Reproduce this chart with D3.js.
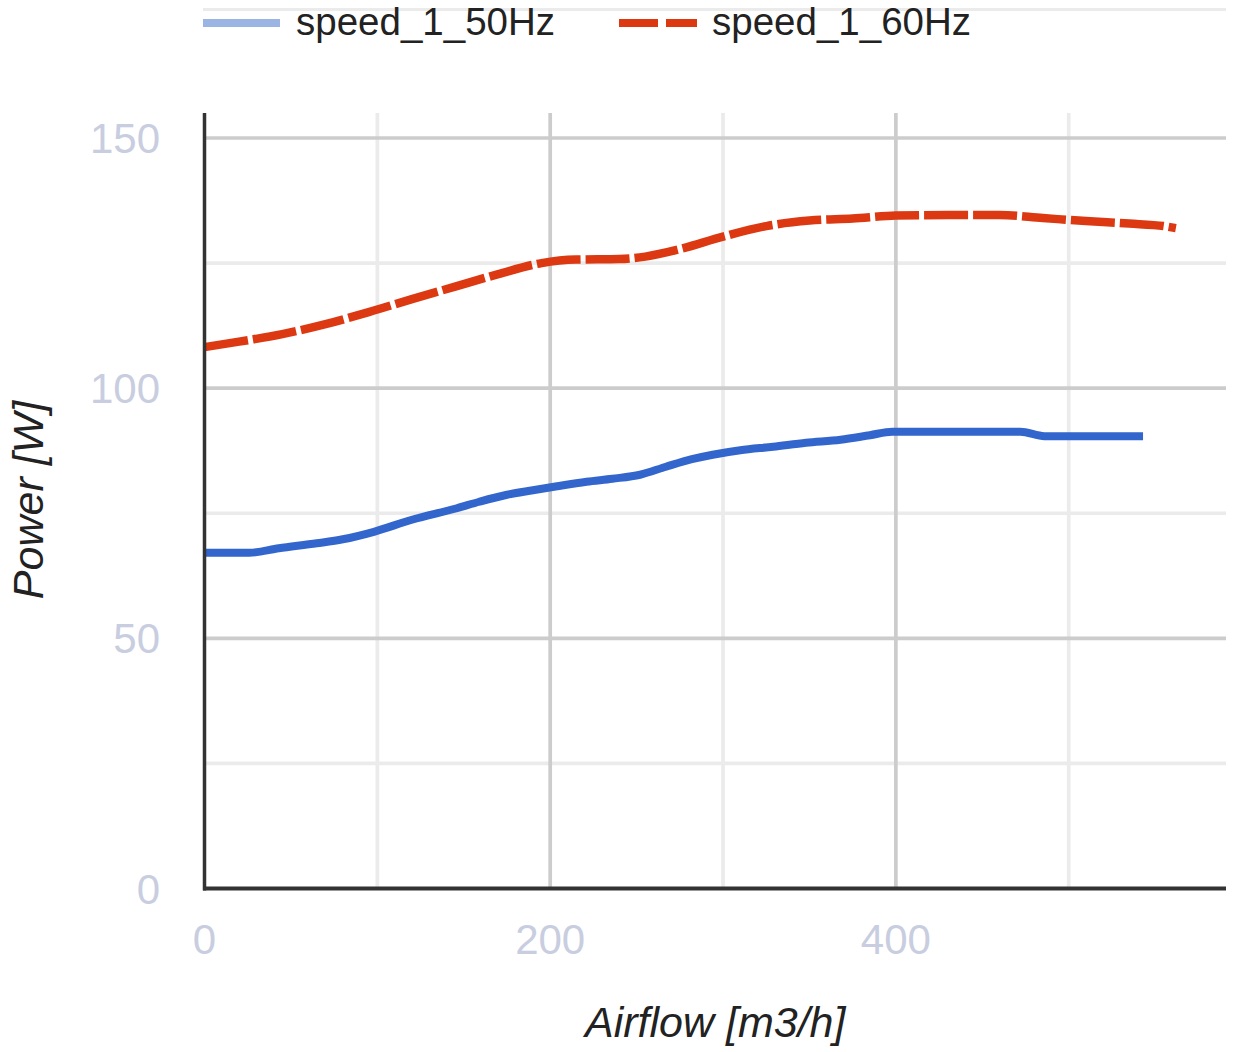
<!DOCTYPE html>
<html>
<head>
<meta charset="utf-8">
<script src="https://cdn.jsdelivr.net/npm/d3@7"></script>
<style>
  html, body { margin: 0; padding: 0; background: #fff; }
  svg { display: block; }
  text { font-family: "Liberation Sans", Arial, sans-serif; }
</style>
</head>
<body>
<svg id="chart" width="1242" height="1052"></svg>
<script>
// ---- data ----
const seriesNames = ["speed_1_50Hz", "speed_1_60Hz"];
const airflow50 = [0, 26, 43, 65, 80, 98, 120, 146, 159, 175, 190, 204, 221, 236, 252, 267, 282, 294, 310, 329, 348, 368, 385, 398, 472, 486, 543];
const power50   = [67.1, 67.1, 68.0, 69.0, 69.8, 71.3, 73.7, 76.0, 77.3, 78.7, 79.6, 80.4, 81.3, 81.9, 82.7, 84.3, 85.8, 86.7, 87.6, 88.3, 89.1, 89.7, 90.6, 91.3, 91.3, 90.4, 90.4];
const airflow60 = [0, 20, 45, 70, 95, 120, 145, 170, 195, 215, 240, 255, 275, 300, 325, 350, 375, 400, 430, 460, 485, 510, 535, 555, 562];
const power60   = [108.2, 109.3, 110.8, 112.8, 115.2, 117.8, 120.3, 122.8, 125.0, 125.7, 125.8, 126.3, 127.8, 130.3, 132.4, 133.5, 133.9, 134.5, 134.6, 134.6, 134.0, 133.4, 132.9, 132.4, 132.0];
const xMajorTicks = [0, 200, 400];
const xMinorTicks = [100, 300, 500];
const yMajorTicks = [0, 50, 100, 150];
const yMinorTicks = [25, 75, 125];
const xTitle = "Airflow [m3/h]";
const yTitle = "Power [W]";

// ---- layout ----
const L = 204.5, R = 1226, T = 113, B = 888.5;
const x = d3.scaleLinear().domain([0, 591]).range([L, R]);
const y = d3.scaleLinear().domain([0, 155]).range([B, T]);

const svg = d3.select("#chart");
const colors = ["#3366cc", "#dc3912"];

// top stray line
svg.append("line").attr("x1", 203).attr("x2", R).attr("y1", 9.5).attr("y2", 9.5)
  .attr("stroke", "#ebebeb").attr("stroke-width", 3);

// gridlines
const g = svg.append("g");
g.selectAll(".vmin").data(xMinorTicks).join("line")
  .attr("x1", d => x(d)).attr("x2", d => x(d)).attr("y1", T).attr("y2", B)
  .attr("stroke", "#ebebeb").attr("stroke-width", 3.7);
g.selectAll(".hmin").data(yMinorTicks).join("line")
  .attr("x1", L).attr("x2", R).attr("y1", d => y(d)).attr("y2", d => y(d))
  .attr("stroke", "#ebebeb").attr("stroke-width", 3.7);
g.selectAll(".vmaj").data(xMajorTicks.filter(d => d > 0)).join("line")
  .attr("x1", d => x(d)).attr("x2", d => x(d)).attr("y1", T).attr("y2", B)
  .attr("stroke", "#cccccc").attr("stroke-width", 3.7);
g.selectAll(".hmaj").data(yMajorTicks.filter(d => d > 0)).join("line")
  .attr("x1", L).attr("x2", R).attr("y1", d => y(d)).attr("y2", d => y(d))
  .attr("stroke", "#cccccc").attr("stroke-width", 3.7);

// series lines
const line = d3.line().x(d => x(d[0])).y(d => y(d[1])).curve(d3.curveMonotoneX);
const d50 = airflow50.map((a, i) => [a, power50[i]]);
const d60 = airflow60.map((a, i) => [a, power60[i]]);
svg.append("path").datum(d50).attr("d", line)
  .attr("fill", "none").attr("stroke", colors[0]).attr("stroke-width", 8);
svg.append("path").datum(d60).attr("d", line)
  .attr("fill", "none").attr("stroke", colors[1]).attr("stroke-width", 8.5)
  .attr("stroke-dasharray", "44 5");

// axes lines
svg.append("line").attr("x1", L).attr("x2", L).attr("y1", T).attr("y2", B + 2)
  .attr("stroke", "#333").attr("stroke-width", 3.5);
svg.append("line").attr("x1", L - 1.5).attr("x2", R).attr("y1", B).attr("y2", B)
  .attr("stroke", "#333").attr("stroke-width", 4);

// tick labels
const labelColor = "#c8cde0";
svg.selectAll(".ylab").data(yMajorTicks).join("text")
  .attr("x", 160).attr("y", d => y(d) + 15)
  .attr("text-anchor", "end").attr("font-size", 42).attr("fill", labelColor)
  .text(d => d);
svg.selectAll(".xlab").data(xMajorTicks).join("text")
  .attr("x", d => x(d)).attr("y", 954)
  .attr("text-anchor", "middle").attr("font-size", 42).attr("fill", labelColor)
  .text(d => d);

// axis titles
svg.append("text").attr("x", (L + R) / 2).attr("y", 1037)
  .attr("text-anchor", "middle").attr("font-size", 43).attr("font-style", "italic")
  .attr("fill", "#222").text(xTitle);
svg.append("text").attr("transform", "translate(43,500) rotate(-90)")
  .attr("text-anchor", "middle").attr("font-size", 43).attr("font-style", "italic")
  .attr("fill", "#222").text(yTitle);

// legend
const leg = svg.append("g");
leg.append("line").attr("x1", 203).attr("x2", 280).attr("y1", 23).attr("y2", 23)
  .attr("stroke", "#9ab4e4").attr("stroke-width", 8);
leg.append("text").attr("x", 296).attr("y", 35).attr("font-size", 38.5).attr("fill", "#222")
  .text(seriesNames[0]);
leg.append("line").attr("x1", 619).attr("x2", 697).attr("y1", 23).attr("y2", 23)
  .attr("stroke", colors[1]).attr("stroke-width", 8).attr("stroke-dasharray", "39 8");
leg.append("text").attr("x", 712).attr("y", 35).attr("font-size", 38.5).attr("fill", "#222")
  .text(seriesNames[1]);
</script>
</body>
</html>
